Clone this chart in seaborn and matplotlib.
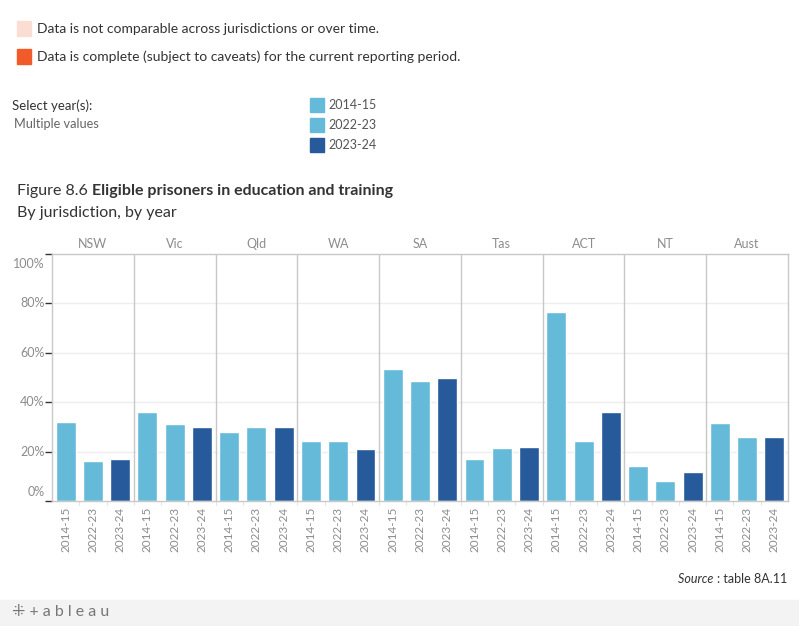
import pandas as pd
import matplotlib.pyplot as plt
import matplotlib.patches as mpatches
import seaborn as sns

jurisdictions = ['NSW', 'Vic', 'Qld', 'WA', 'SA', 'Tas', 'ACT', 'NT', 'Aust']
years = ['2014-15', '2022-23', '2023-24']
v_2014_15 = [32.0, 36.0, 27.9, 24.3, 53.4, 17.0, 76.4, 14.2, 31.5]
v_2022_23 = [16.2, 31.1, 29.9, 24.3, 48.5, 21.4, 24.3, 8.1, 25.9]
v_2023_24 = [17.0, 29.9, 29.9, 21.0, 49.7, 21.8, 36.0, 11.7, 25.9]
year_colors = {'2014-15': '#65bad9', '2022-23': '#65bad9', '2023-24': '#265a9a'}

rows = []
for i, j in enumerate(jurisdictions):
    for y, vals in zip(years, [v_2014_15, v_2022_23, v_2023_24]):
        rows.append({'juris': j, 'year': y, 'key': j + '|' + y, 'value': vals[i]})
df = pd.DataFrame(rows)

sns.set_style('white')
plt.rcParams['font.family'] = ['Lato', 'DejaVu Sans']
grey = '#8c8c8c'
line_grey = '#c8c8c8'

fig = plt.figure(figsize=(7.99, 6.26), dpi=100)
W, H = 799, 626
ax = fig.add_axes([52 / W, 1 - 501 / H, (788 - 52) / W, (501 - 253.7) / H])

sns.barplot(data=df, x='key', y='value', hue='year', palette=year_colors, dodge=False,
            width=0.73, saturation=1, order=df['key'], ax=ax, legend=False)
ax.set_xlim(-0.5, len(df) - 0.5)
ax.set_ylim(0, 100)
ax.set_xlabel('')
ax.set_ylabel('')

ax.set_yticks([0, 20, 40, 60, 80, 100])
ax.set_yticklabels([])
for t in [20, 40, 60, 80]:
    ax.axhline(t, color='#eeeeee', lw=1, zorder=0)
ax.tick_params(axis='y', length=5, width=1, color='#333333', left=True)
ylabel_pos = {0: 3.5, 20: 20, 40: 40, 60: 60, 80: 80, 100: 96}
for t, pos in ylabel_pos.items():
    ax.text(-0.78, pos, f'{t}%', ha='right', va='center', fontsize=9, color=grey,
            transform=ax.transData)

ax.set_xticks(range(len(df)))
ax.set_xticklabels(df['year'], rotation=90, fontsize=8.5, color=grey)
ax.tick_params(axis='x', length=0, pad=4)
for x in range(len(df) - 1):
    ax.plot([x + 0.5, x + 0.5], [0, -1.6], color='#e4e4e4', lw=0.8, clip_on=False)

for k in range(1, len(jurisdictions)):
    ax.axvline(k * 3 - 0.5, color=line_grey, lw=1, zorder=3)
for s in ax.spines.values():
    s.set_color(line_grey)
    s.set_linewidth(1)

for i, j in enumerate(jurisdictions):
    ax.text(i * 3 + 1, 101.5, j, ha='center', va='bottom', fontsize=9, color=grey)

# top legend boxes
fig.patches.append(mpatches.Rectangle((17 / W, 1 - 36 / H), 14 / W, 15 / H,
                                      transform=fig.transFigure, color='#fbddd3'))
fig.text(37 / W, 1 - 29 / H, 'Data is not comparable across jurisdictions or over time.',
         fontsize=10, color='#333333', va='center')
fig.patches.append(mpatches.Rectangle((17 / W, 1 - 64 / H), 14 / W, 15 / H,
                                      transform=fig.transFigure, color='#f15a29'))
fig.text(37 / W, 1 - 57 / H, 'Data is complete (subject to caveats) for the current reporting period.',
         fontsize=10, color='#333333', va='center')

fig.text(12 / W, 1 - 106 / H, 'Select year(s):', fontsize=9.5, color='#333333', va='center')
fig.text(14 / W, 1 - 124 / H, 'Multiple values', fontsize=9.2, color='#666666', va='center')
for n, y in enumerate(years):
    yc = 105 + n * 20
    fig.patches.append(mpatches.Rectangle((310 / W, 1 - (yc + 7) / H), 14 / W, 14 / H,
                                          transform=fig.transFigure, color=year_colors[y]))
    fig.text(328 / W, 1 - yc / H, y, fontsize=9, color='#555555', va='center')

# title
t1 = fig.text(17 / W, 1 - 191 / H, 'Figure 8.6 ', fontsize=11.5, color='#333333', va='center')
fig.canvas.draw()
bb = t1.get_window_extent()
fig.text(bb.x1 / W, 1 - 191 / H, 'Eligible prisoners in education and training',
         fontsize=11.5, fontweight='bold', color='#333333', va='center')
fig.text(17 / W, 1 - 213 / H, 'By jurisdiction, by year', fontsize=11.5, color='#333333', va='center')

# source
s2 = fig.text(787 / W, 1 - 579 / H, ': table 8A.11', fontsize=9, color='#333333',
              va='center', ha='right')
fig.canvas.draw()
bb2 = s2.get_window_extent()
fig.text(bb2.x0 / W, 1 - 579 / H, 'Source ', fontsize=9, style='italic', color='#333333',
         va='center', ha='right')

# tableau footer
fig.patches.append(mpatches.Rectangle((0, 0), 1, 26 / H, transform=fig.transFigure,
                                      color='#f3f3f3', zorder=0))
fig.text(12 / W, 1 - 612 / H, '⁜ + a b l e a u', fontsize=11.5, color='#777777', va='center')

plt.savefig('out.png', dpi=100)
